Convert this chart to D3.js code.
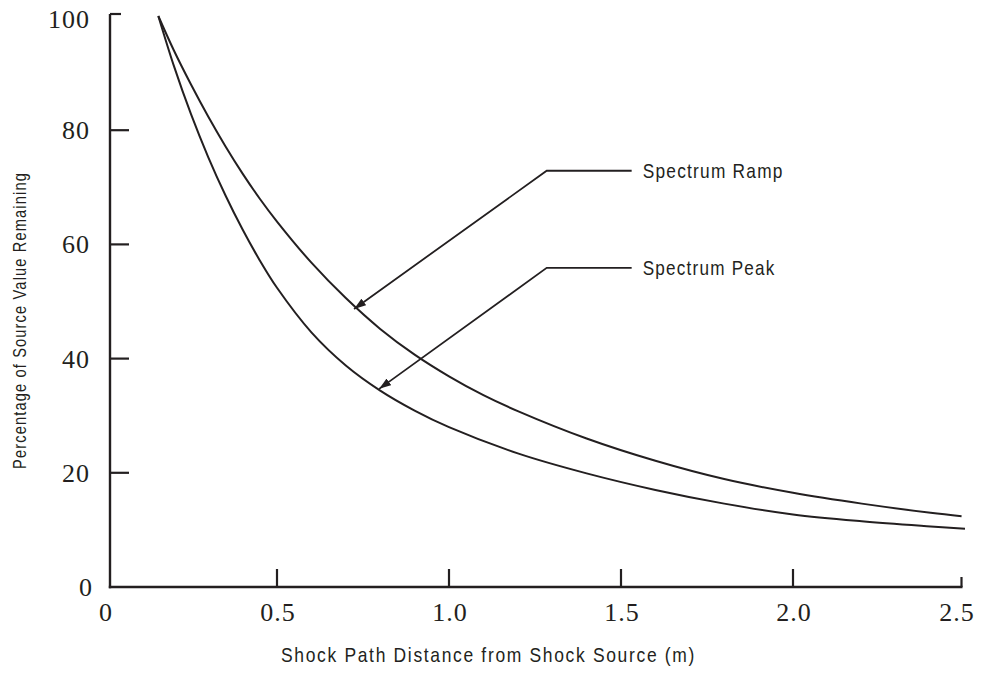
<!DOCTYPE html>
<html>
<head>
<meta charset="utf-8">
<script src="https://cdn.jsdelivr.net/npm/d3@7"></script>
<style>
  html, body { margin: 0; padding: 0; background: #fff; }
  svg { display: block; }
  .tick-label { font-family: "Liberation Serif", "Times New Roman", serif; font-size: 26px; fill: #231f20; }
  .narrow { font-family: "Liberation Sans Narrow", "Arial Narrow", "Liberation Sans", sans-serif; fill: #231f20; }
</style>
</head>
<body>
<svg id="chart" width="989" height="673"></svg>
<script>
// Shock path distance (m) and percentage of source value remaining
const rampDistance = [0.155, 0.2, 0.25, 0.3, 0.35, 0.4, 0.45, 0.5, 0.6, 0.7, 0.8, 0.9, 1.0, 1.1, 1.2, 1.4, 1.6, 1.8, 2.0, 2.2, 2.4, 2.49];
const rampPercent  = [100, 94.0, 88.0, 82.4, 77.2, 72.4, 68.0, 64.0, 56.8, 50.6, 45.2, 40.7, 36.9, 33.6, 30.8, 26.0, 22.1, 18.9, 16.5, 14.6, 13.0, 12.4];

const peakDistance = [0.155, 0.2, 0.25, 0.3, 0.35, 0.4, 0.45, 0.5, 0.6, 0.7, 0.8, 0.9, 1.0, 1.2, 1.4, 1.6, 1.8, 2.0, 2.2, 2.4, 2.5];
const peakPercent  = [100, 91.3, 82.8, 75.3, 68.6, 62.6, 57.2, 52.4, 44.6, 38.8, 34.4, 30.9, 28.0, 23.4, 19.9, 17.0, 14.6, 12.7, 11.5, 10.6, 10.2];

const xTickValues = [0, 0.5, 1.0, 1.5, 2.0, 2.5];
const xTickLabels = ["0", "0.5", "1.0", "1.5", "2.0", "2.5"];
const yTickValues = [0, 20, 40, 60, 80, 100];
const yTickLabels = ["0", "20", "40", "60", "80", "100"];

const seriesNames = ["Spectrum Ramp", "Spectrum Peak"];
// callout: label anchor (elbow) and arrow tip, in data units
const calloutElbowX = [1.284, 1.284];
const calloutElbowY = [72.9, 55.9];
const calloutLineEndX = [1.531, 1.531];
const calloutTipX = [0.724, 0.797];
const calloutTipY = [48.7, 34.7];

const xTitle = "Shock Path Distance from Shock Source (m)";
const yTitle = "Percentage of Source Value Remaining";

const ink = "#231f20";
const svg = d3.select("#chart");

const x = d3.scaleLinear().domain([0, 2.5]).range([105, 965]);
const y = d3.scaleLinear().domain([0, 100]).range([587, 16]);

const axisLeft = 110, axisRight = 962.5;

// axis frame lines
svg.append("line").attr("x1", axisLeft).attr("x2", axisLeft).attr("y1", y(100) - 2).attr("y2", y(0) + 1.2)
  .attr("stroke", ink).attr("stroke-width", 2.4);
svg.append("line").attr("x1", axisLeft - 1.2).attr("x2", axisRight).attr("y1", y(0)).attr("y2", y(0))
  .attr("stroke", ink).attr("stroke-width", 2.4);

// y ticks (inward)
const yTicks = svg.append("g");
yTicks.selectAll("line").data(yTickValues.filter(v => v > 0)).join("line")
  .attr("x1", axisLeft).attr("x2", v => v === 100 ? axisLeft + 11 : axisLeft + 19)
  .attr("y1", v => y(v) - (v === 100 ? 2 : 0)).attr("y2", v => y(v) - (v === 100 ? 2 : 0))
  .attr("stroke", ink).attr("stroke-width", 2.2);
yTicks.selectAll("text").data(yTickValues).join("text")
  .attr("class", "tick-label")
  .attr("x", v => 90 + (v === 0 ? 3 : 0))
  .attr("y", v => y(v) + 9 + (v === 100 ? 3 : 0))
  .attr("text-anchor", "end")
  .attr("letter-spacing", 1)
  .text((v, i) => yTickLabels[i]);

// x ticks (inward)
const xTicks = svg.append("g");
xTicks.selectAll("line").data(xTickValues.filter(v => v > 0)).join("line")
  .attr("x1", v => v === 2.5 ? axisRight - 1 : x(v)).attr("x2", v => v === 2.5 ? axisRight - 1 : x(v))
  .attr("y1", y(0)).attr("y2", v => v === 2.5 ? y(0) - 10 : y(0) - 18)
  .attr("stroke", ink).attr("stroke-width", 2.2);
xTicks.selectAll("text").data(xTickValues).join("text")
  .attr("class", "tick-label")
  .attr("x", v => v === 2.5 ? x(v) - 8 : x(v) + 1)
  .attr("y", 621)
  .attr("text-anchor", "middle")
  .attr("letter-spacing", 1)
  .text((v, i) => xTickLabels[i]);

// axis titles (condensed sans)
svg.append("text").attr("class", "narrow")
  .attr("x", 281).attr("y", 662)
  .attr("font-size", 21)
  .attr("letter-spacing", 2)
  .attr("textLength", 415).attr("lengthAdjust", "spacingAndGlyphs")
  .text(xTitle);
svg.append("text").attr("class", "narrow")
  .attr("transform", "translate(26,469) rotate(-90)")
  .attr("font-size", 19)
  .attr("letter-spacing", 1.5)
  .attr("textLength", 297).attr("lengthAdjust", "spacingAndGlyphs")
  .text(yTitle);

// curves
const line = d3.line().x(d => x(d[0])).y(d => y(d[1])).curve(d3.curveCatmullRom.alpha(0.5));
const series = [
  d3.zip(rampDistance, rampPercent),
  d3.zip(peakDistance, peakPercent)
];
svg.append("g").selectAll("path").data(series).join("path")
  .attr("d", line)
  .attr("fill", "none")
  .attr("stroke", ink)
  .attr("stroke-width", 2);

// arrowhead
svg.append("defs").append("marker")
  .attr("id", "arrow")
  .attr("viewBox", "0 0 12 8")
  .attr("refX", 12).attr("refY", 4)
  .attr("markerWidth", 12).attr("markerHeight", 8)
  .attr("markerUnits", "userSpaceOnUse")
  .attr("orient", "auto")
  .append("path").attr("d", "M0,0 L12,4 L0,8 Z").attr("fill", ink);

// callouts
const callouts = svg.append("g");
seriesNames.forEach((name, i) => {
  callouts.append("path")
    .attr("d", d3.line()([
      [x(calloutLineEndX[i]), y(calloutElbowY[i])],
      [x(calloutElbowX[i]), y(calloutElbowY[i])],
      [x(calloutTipX[i]), y(calloutTipY[i])]
    ]))
    .attr("fill", "none")
    .attr("stroke", ink)
    .attr("stroke-width", 1.8)
    .attr("marker-end", "url(#arrow)");
  callouts.append("text").attr("class", "narrow")
    .attr("x", x(calloutLineEndX[i]) + 11)
    .attr("y", y(calloutElbowY[i]) + 7)
    .attr("font-size", 21)
    .attr("letter-spacing", 1.5)
    .attr("textLength", name === "Spectrum Ramp" ? 141 : 133).attr("lengthAdjust", "spacingAndGlyphs")
    .text(name);
});
</script>
</body>
</html>
